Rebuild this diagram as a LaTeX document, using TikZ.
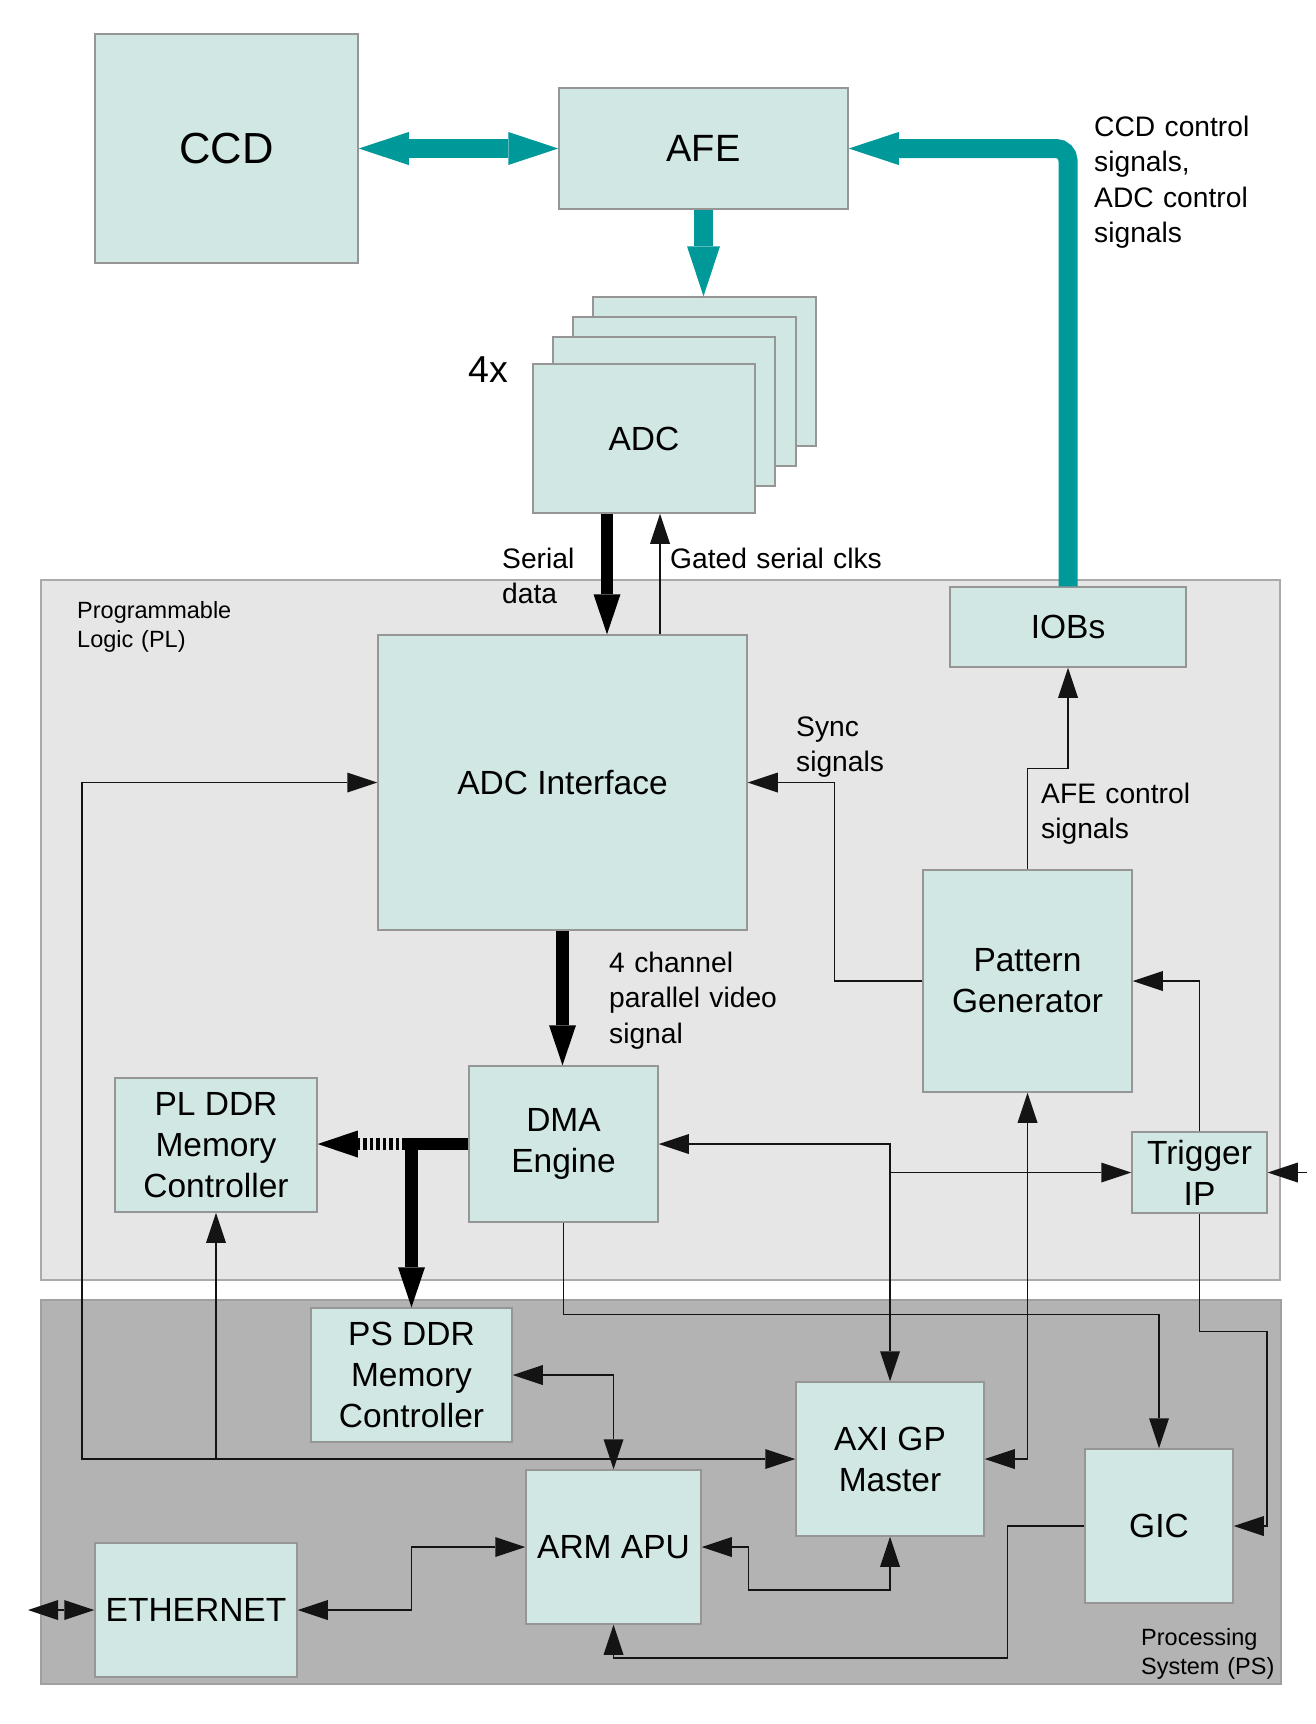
\documentclass[tikz,border=0pt]{standalone}
\usepackage{fontspec}
\setmainfont{Liberation Sans}
\usetikzlibrary{arrows.meta,calc}
\definecolor{boxfill}{RGB}{208,231,228}
\definecolor{boxline}{RGB}{150,150,150}
\definecolor{tealc}{RGB}{0,153,153}
\definecolor{plfill}{RGB}{230,230,230}
\definecolor{plline}{RGB}{170,170,170}
\definecolor{psfill}{RGB}{179,179,179}
\definecolor{psline}{RGB}{160,160,160}
\definecolor{wire}{RGB}{20,20,20}
\newcommand\fsBig{\fontsize{43.5}{52}\selectfont}
\newcommand\fsAfe{\fontsize{38}{46}\selectfont}
\newcommand\fsBox{\fontsize{33.5}{41}\selectfont}
\newcommand\fsLbl{\fontsize{28.2}{35.5}\selectfont}
\newcommand\fsReg{\fontsize{23.5}{29.5}\selectfont}
\newcommand\fsFour{\fontsize{37.5}{45}\selectfont}
\tikzset{
  box/.style={draw=boxline, fill=boxfill, line width=1.5pt, inner sep=0pt, align=center, font=\fsBox},
  plreg/.style={draw=plline, fill=plfill, line width=1.5pt},
  psreg/.style={draw=psline, fill=psfill, line width=1.5pt},
  sgl/.style={draw=wire, line width=1.3pt, -{Triangle[length=30pt,width=20pt,line width=0pt]}},
  dbl/.style={draw=wire, line width=1.3pt, {Triangle[length=30pt,width=20pt,line width=0pt]}-{Triangle[length=30pt,width=20pt,line width=0pt]}},
  thickarr/.style={draw=black, line width=12.5pt, -{Triangle[length=40pt,width=27pt,line width=0pt]}},
  tealarr/.style={draw=tealc, line width=19pt, -{Triangle[length=50pt,width=33pt,line width=0pt]}},
  tealdbl/.style={draw=tealc, line width=19pt, {Triangle[length=50pt,width=33pt,line width=0pt]}-{Triangle[length=50pt,width=33pt,line width=0pt]}},
  lbl/.style={anchor=base west, inner sep=0pt, align=left, text width=300pt, font=\fsLbl},
  reglbl/.style={anchor=base west, inner sep=0pt, align=left, text width=200pt, font=\fsReg},
}
\begin{document}
\begin{tikzpicture}[x=1pt,y=-1pt]
\useasboundingbox (0,0) rectangle (1316,1724);
% regions
\draw[plreg] (41,580) rectangle (1280,1280);
\draw[psreg] (41,1300) rectangle (1281,1684);
% boxes
\node[box, font=\fsBig, minimum width=263pt, minimum height=229pt] (CCD) at (226.5,148.5) {CCD};
\node[box, font=\fsAfe, minimum width=289pt, minimum height=121pt] (AFE) at (703.5,148.5) {AFE};
\node[box, minimum width=223pt, minimum height=149pt] (adcA) at (704.5,371.5) {};
\node[box, minimum width=223pt, minimum height=149pt] (adcB) at (684.5,391.5) {};
\node[box, minimum width=222pt, minimum height=149pt] (adcC) at (664,411.5) {};
\node[box, minimum width=222pt, minimum height=149pt] (ADC) at (644,438.5) {ADC};
\node[box, minimum width=369pt, minimum height=295pt] (ADCI) at (562.5,782.5) {ADC Interface};
\node[box, minimum width=236pt, minimum height=80pt] (IOBS) at (1068,627) {IOBs};
\node[box, minimum width=209pt, minimum height=222pt] (PG) at (1027.5,981) {Pattern\\Generator};
\node[box, minimum width=135pt, minimum height=81pt] (TRIG) at (1199.5,1172.5) {Trigger\\IP};
\node[box, minimum width=189pt, minimum height=156pt] (DMA) at (563.5,1144) {DMA\\Engine};
\node[box, minimum width=202pt, minimum height=134pt] (PLDDR) at (216,1145) {PL DDR\\Memory\\Controller};
\node[box, minimum width=201pt, minimum height=134pt] (PSDDR) at (411.5,1375) {PS DDR\\Memory\\Controller};
\node[box, minimum width=188pt, minimum height=154pt] (AXI) at (890,1459) {AXI GP\\Master};
\node[box, minimum width=175pt, minimum height=154pt] (ARM) at (613.5,1547) {ARM APU};
\node[box, minimum width=202pt, minimum height=134pt] (ETH) at (196,1610) {ETHERNET};
\node[box, minimum width=148pt, minimum height=154pt] (GIC) at (1159,1526) {GIC};
% teal connectors
\draw[tealdbl] (CCD.east) -- (AFE.west);
\draw[tealarr] (AFE.south) -- (AFE.south |- adcA.north);
\draw[tealarr, rounded corners=12pt] (IOBS.north) -- (IOBS.north |- AFE.east) -- (AFE.east);
% thick black
\draw[thickarr] ([xshift=-37pt]ADC.south) -- ([xshift=44.5pt]ADCI.north);
\draw[thickarr] (ADCI.south) -- (ADCI.south |- DMA.north);
\coordinate (jd) at (411.5,1144);
\draw[draw=black, line width=12.5pt] (DMA.west) -- ([xshift=-6pt]jd);
\draw[thickarr, dash pattern=on 3.5pt off 3pt] ([xshift=-6pt]jd) -- (PLDDR.east |- DMA.west);
\draw[thickarr] ([yshift=6pt]jd) -- (jd |- PSDDR.north);
% thin connectors
\draw[sgl] ([xshift=97.5pt]ADCI.north) -- ([xshift=16pt]ADC.south);
\draw[sgl] (PG.north) -- ++(0,-101) -| (IOBS.south);
\draw[sgl] (PG.west) -- ++(-88,0) |- (ADCI.east);
\draw[dbl] (DMA.east) -| (AXI.north);
\coordinate (j1) at (889,1172.5);
\draw[sgl] (j1) -- (TRIG.west);
\coordinate (trigin) at (1307,1172.5);
\draw[sgl] (trigin) -- (TRIG.east);
\draw[sgl] (TRIG.north) |- (PG.east);
\draw[sgl] (TRIG.south) -- ++(0,118) -- ++(67.5,0) |- (GIC.east);
\draw[sgl] (DMA.south) -- ++(0,92) -| (GIC.north);
\draw[dbl] (ADCI.west) -| (82,1459) -- (AXI.west);
\coordinate (j2) at (216,1459);
\draw[sgl] (j2) -- (PLDDR.south);
\draw[dbl] (PSDDR.east) -| (ARM.north);
\draw[dbl] (AXI.east) -| (PG.south);
\draw[dbl] (ARM.east) -- ++(47,0) -- ++(0,43) -| (AXI.south);
\draw[dbl] (ETH.east) -- ++(114,0) |- (ARM.west);
\coordinate (ethext) at (28,1610);
\draw[dbl] (ethext) -- (ETH.west);
\draw[sgl] (GIC.west) -- ++(-77,0) -- ++(0,132) -| (ARM.south);
% labels
\node[anchor=base west, inner sep=0pt, font=\fsFour] (fourx) at (468,382) {4x};
\node[lbl] (lserial) at (502,568) {Serial\\data};
\node[lbl] (lgated) at (670,568) {Gated serial clks};
\node[lbl] (lsync) at (796,736) {Sync\\signals};
\node[lbl] (l4ch) at (609,972) {4 channel\\parallel video\\signal};
\node[lbl] (lafe) at (1041,803) {AFE control\\signals};
\node[lbl] (lccd) at (1094,136) {CCD control\\signals,\\ADC control\\signals};
\node[reglbl] (lpl) at (77,618) {Programmable\\Logic (PL)};
\node[reglbl] (lps) at (1141,1645) {Processing\\System (PS)};
\end{tikzpicture}
\end{document}
